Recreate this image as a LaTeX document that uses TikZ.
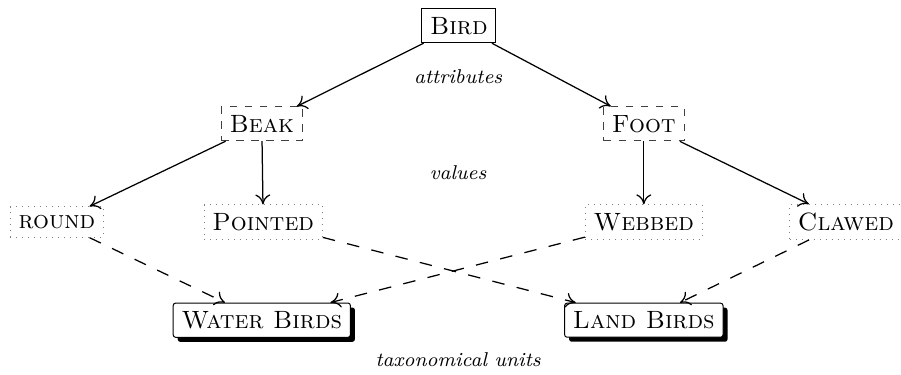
\documentclass[tikz,border=0pt]{standalone}
\usepackage{tikz}
\usetikzlibrary{shadows,arrows.meta}

\begin{document}
\begin{tikzpicture}[
	>={To[length=4pt,width=6pt]}, line width=0.5pt,
	attr/.style = {draw=black!75, dashed, line width=0.4pt},
	val/.style = {draw=gray, dotted, line width=0.4pt},
	unit/.style = {draw, fill=white, rounded corners=1pt, line width=0.4pt,
		general shadow={fill=black, shadow xshift=1.8pt, shadow yshift=-1.8pt}},
	link/.style = {->, dash pattern=on 5pt off 5pt}
	]
	\useasboundingbox (0,0) rectangle (12.665,5.271);
	
	% Корень дерева
	\node[draw, line width=0.4pt] (bird) at (6.45,4.91) {\textsc{Bird}};
	
	% Атрибуты
	\node[attr] (beak) at (3.68,3.53) {\textsc{Beak}};
	\node[attr] (foot) at (9.05,3.53) {\textsc{Foot}};
	
	% Значения атрибутов
	\node[val] (round) at (0.80,2.15) {\textsc{round}};
	\node[val] (pointed) at (3.70,2.15) {\textsc{Pointed}};
	\node[val] (webbed) at (9.05,2.15) {\textsc{Webbed}};
	\node[val] (clawed) at (11.89,2.15) {\textsc{Clawed}};
	
	% Таксономические единицы (с тенью)
	\node[unit] (water) at (3.68,0.77) {\textsc{Water Birds}};
	\node[unit] (land) at (9.05,0.77) {\textsc{Land Birds}};
	
	% Подписи уровней
	\node (attrlabel) at (6.44,4.19) {\footnotesize\textit{attributes}};
	\node (vallabel) at (6.44,2.84) {\footnotesize\textit{values}};
	\node (unitlabel) at (6.44,0.22) {\footnotesize\textit{taxonomical units}};
	
	% Стрелки от корня к атрибутам и значениям
	\draw[->] (bird) -- (beak);
	\draw[->] (bird) -- (foot);
	\draw[->] (beak) -- (round);
	\draw[->] (beak) -- (pointed);
	\draw[->] (foot) -- (webbed);
	\draw[->] (foot) -- (clawed);
	
	% Пунктирные связи к единицам
	\draw[link] (round) -- (water);
	\draw[link] (webbed) -- (water);
	\draw[link] (pointed) -- (land);
	\draw[link] (clawed) -- (land);
\end{tikzpicture}
\end{document}
